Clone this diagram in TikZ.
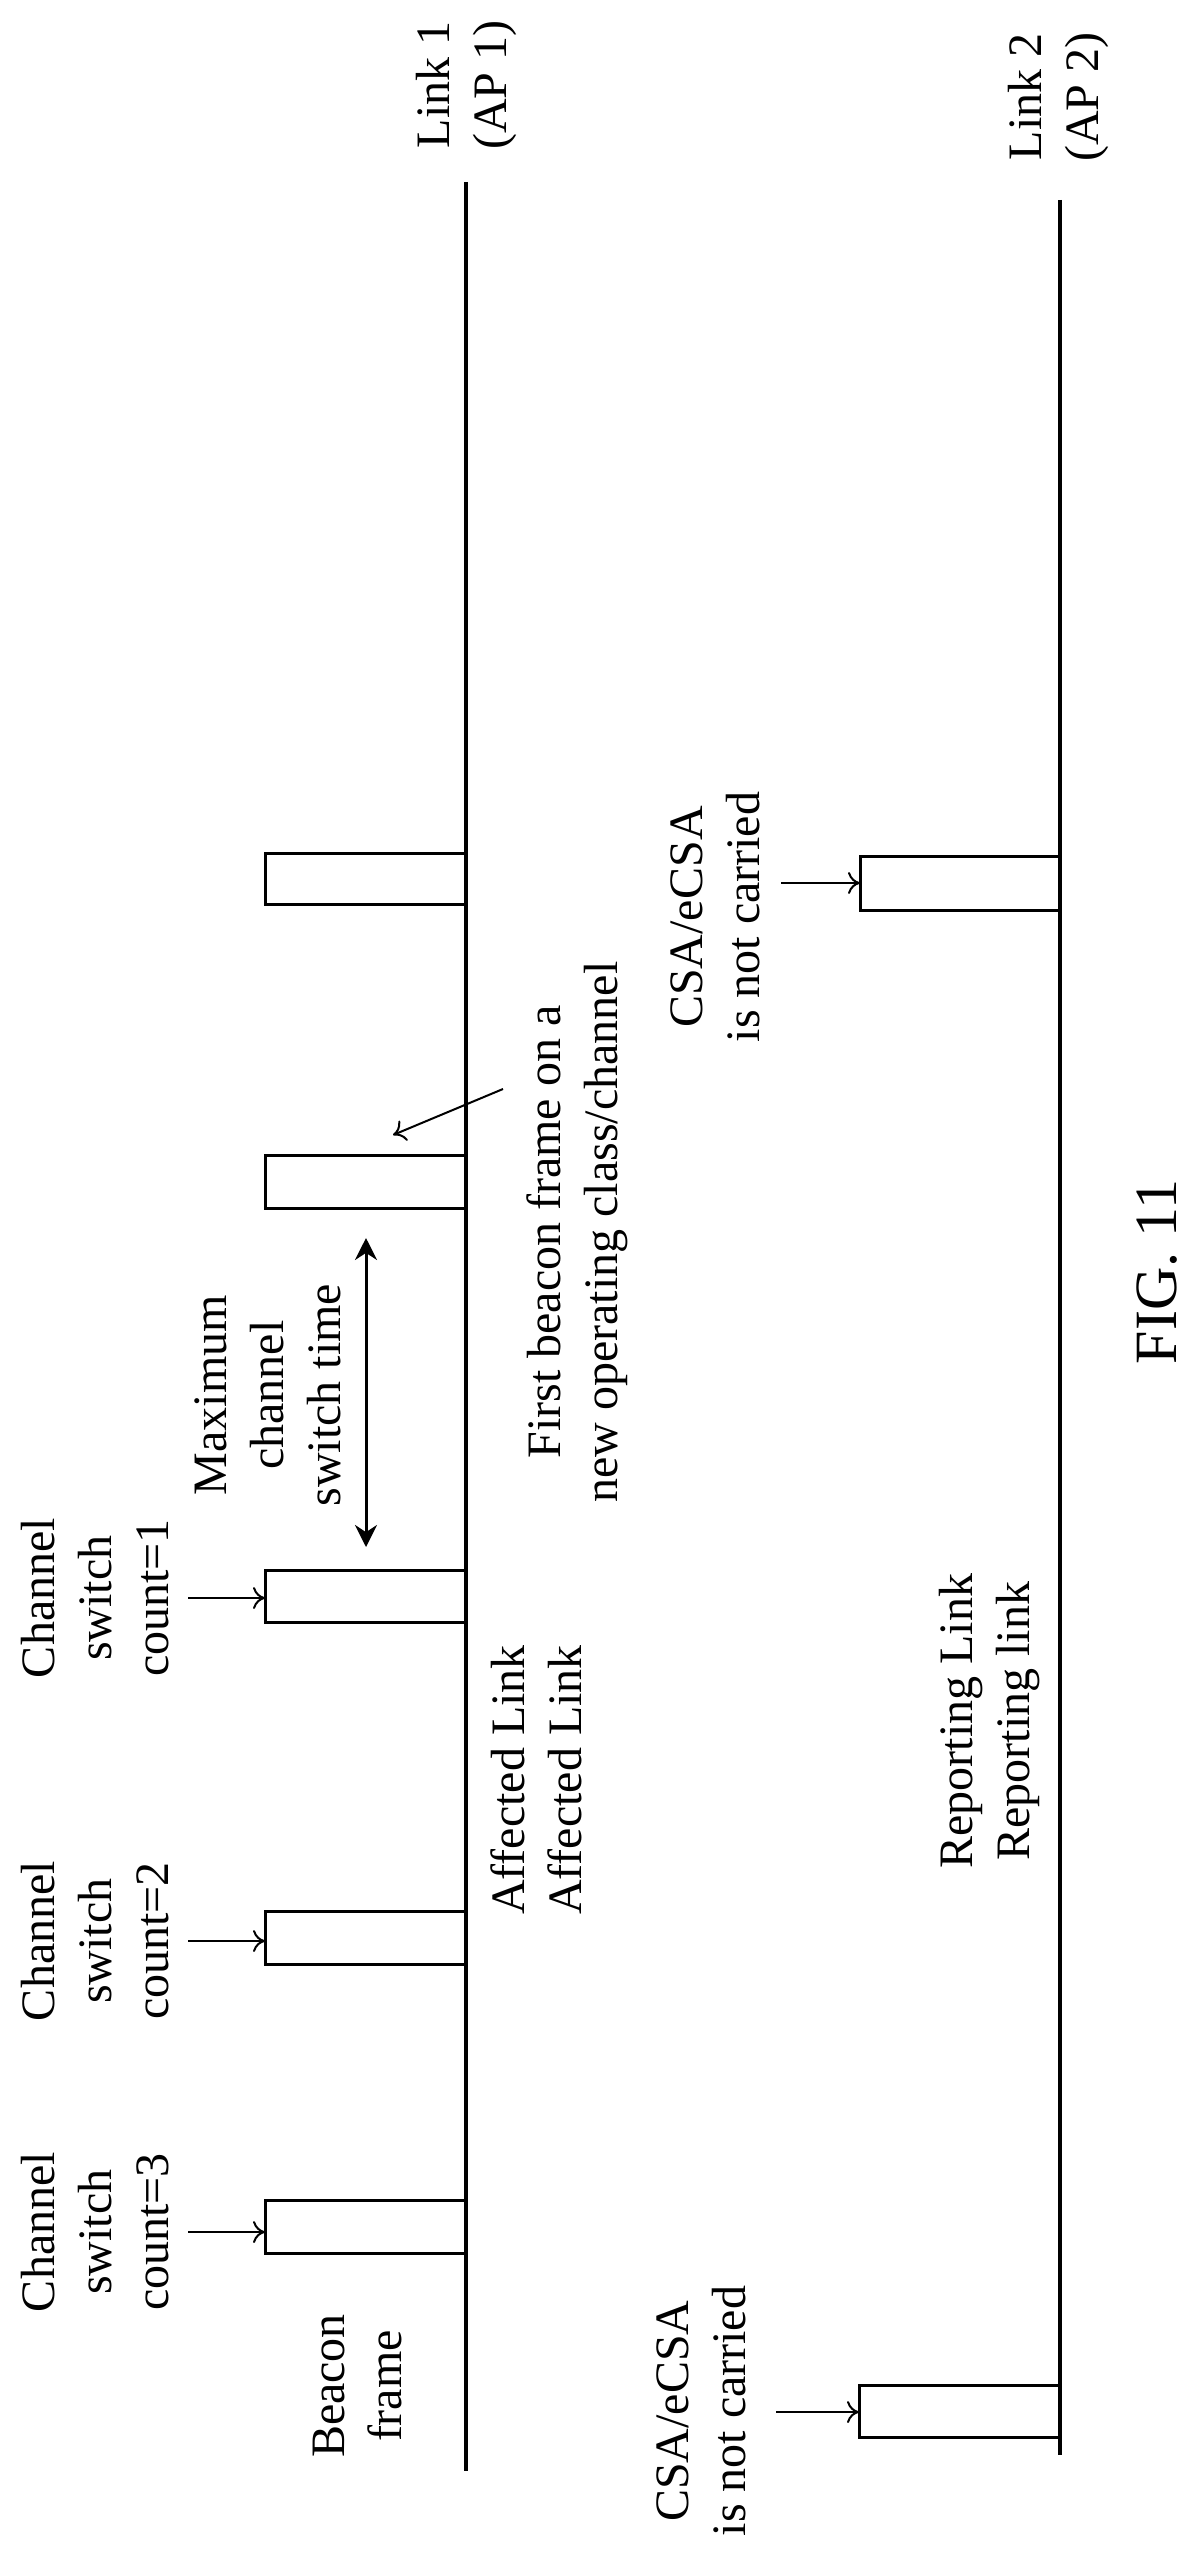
\documentclass[tikz,border=0pt]{standalone}
\usepackage{fontspec}
\setmainfont{Liberation Serif}
\usetikzlibrary{arrows.meta}
\begin{document}
\begin{tikzpicture}[x=1pt,y=-1pt,
  lbl/.style={rotate=90,align=center,inner sep=0pt,font=\fontsize{48}{57}\selectfont},
  link/.style={line width=4pt},
  frm/.style={line width=3pt},
  ptr/.style={line width=2pt,-{To[length=12pt,width=22pt]}},
  dbl/.style={line width=3pt,{Stealth[length=22pt,width=22pt]}-{Stealth[length=22pt,width=22pt]}}]
\useasboundingbox (0,0) rectangle (1198,2558);
% links
\coordinate (l1t) at (466,182); \coordinate (l1b) at (466,2471);
\coordinate (l2t) at (1060,200); \coordinate (l2b) at (1060,2455);
\draw[link] (l1t) -- (l1b);
\draw[link] (l2t) -- (l2b);
\node[lbl] (L1) at (466,85) {Link 1\\(AP 1)};
\node[lbl] (L2) at (1058,97) {Link 2\\(AP 2)};
% beacon frames on link 1
\draw[frm] (466,853) -- (265,853) -- (265,904) -- (466,904);
\draw[frm] (466,1155) -- (265,1155) -- (265,1208) -- (466,1208);
\draw[frm] (466,1570) -- (265,1570) -- (265,1622) -- (466,1622);
\draw[frm] (466,1911) -- (265,1911) -- (265,1964) -- (466,1964);
\draw[frm] (466,2200) -- (265,2200) -- (265,2253) -- (466,2253);
% frames on link 2
\draw[frm] (1060,856) -- (860,856) -- (860,910) -- (1060,910);
\draw[frm] (1060,2385) -- (859,2385) -- (859,2437) -- (1060,2437);
% pointers
\coordinate (b1) at (265,1598); \coordinate (a1) at (188,1598);
\coordinate (b2) at (265,1941); \coordinate (a2) at (188,1941);
\coordinate (b3) at (265,2232); \coordinate (a3) at (188,2232);
\coordinate (b4) at (860,883); \coordinate (a4) at (781,883);
\coordinate (b5) at (859,2412); \coordinate (a5) at (776,2412);
\draw[ptr] (a1) -- (b1);
\draw[ptr] (a2) -- (b2);
\draw[ptr] (a3) -- (b3);
\draw[ptr] (a4) -- (b4);
\draw[ptr] (a5) -- (b5);
\coordinate (d1) at (366,1238); \coordinate (d2) at (366,1547);
\draw[dbl] (d1) -- (d2);
\coordinate (f1) at (503,1089); \coordinate (f2) at (393,1135);
\draw[ptr] (f1) -- (f2);
% labels
\node[lbl] (c1) at (95,1598) {Channel\\switch\\count=1};
\node[lbl] (c2) at (95,1941) {Channel\\switch\\count=2};
\node[lbl] (c3) at (95,2232) {Channel\\switch\\count=3};
\node[lbl] (mx) at (268,1395) {Maximum\\channel\\switch time};
\node[lbl] (fb) at (577,1232) {First beacon frame on a\\new operating class/channel};
\node[lbl] (af) at (536,1780) {Affected Link\\Affected Link};
\node[lbl] (bf) at (358,2386) {Beacon\\frame};
\node[lbl] (rp) at (990,1721) {Reporting Link\\Reporting link};
\node[lbl] (cs1) at (715,917) {CSA/eCSA\\is not carried};
\node[lbl] (cs2) at (701,2411) {CSA/eCSA\\is not carried};
\node[lbl,font=\fontsize{60}{70}\selectfont] (fig) at (1157,1272) {FIG. 11};
\end{tikzpicture}
\end{document}
